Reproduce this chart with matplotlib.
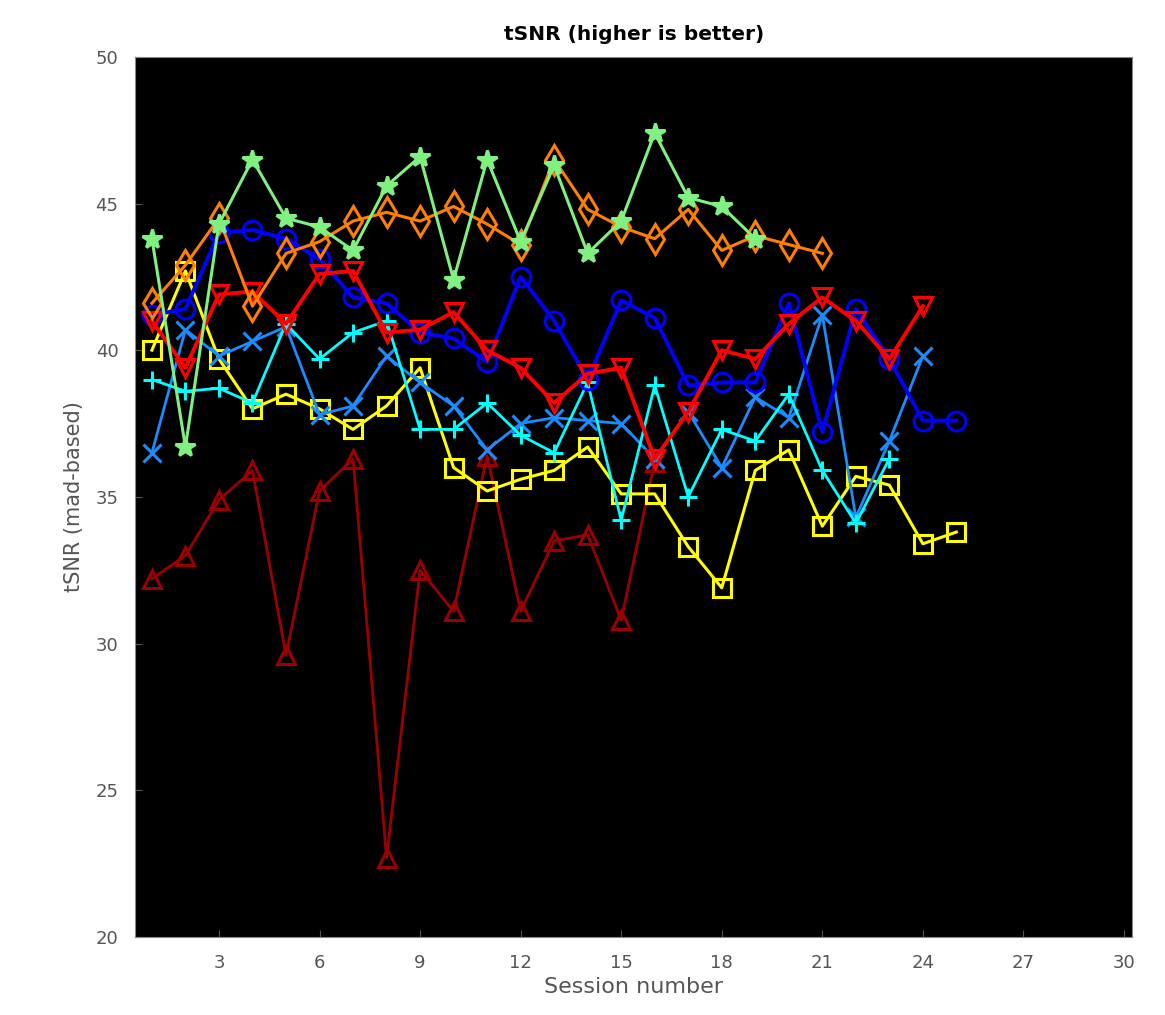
import numpy as np
import matplotlib
matplotlib.use("Agg")
import matplotlib.pyplot as plt

# ── Data (tSNR per session) ──────────────────────────────────────────────────
green = [43.8, 36.7, 44.3, 46.5, 44.5, 44.2, 43.4, 45.6, 46.6, 42.4,
         46.5, 43.7, 46.3, 43.3, 44.4, 47.4, 45.2, 44.9, 43.8]
orange = [41.6, 42.9, 44.5, 41.5, 43.3, 43.7, 44.4, 44.7, 44.4, 44.9,
          44.3, 43.6, 46.5, 44.8, 44.2, 43.8, 44.8, 43.4, 43.9, 43.6, 43.3]
blue = [41.2, 41.4, 44.0, 44.1, 43.8, 43.1, 41.8, 41.6, 40.6, 40.4,
        39.6, 42.5, 41.0, 39.0, 41.7, 41.1, 38.8, 38.9, 38.9, 41.6,
        37.2, 41.4, 39.7, 37.6, 37.6]
red = [41.0, 39.4, 41.9, 42.0, 40.9, 42.6, 42.7, 40.6, 40.7, 41.3,
       40.0, 39.4, 38.2, 39.2, 39.4, 36.3, 37.9, 40.0, 39.7, 40.9,
       41.8, 41.0, 39.7, 41.5]
cyan = [39.0, 38.6, 38.7, 38.2, 40.9, 39.7, 40.6, 41.0, 37.3, 37.3,
        38.2, 37.1, 36.5, 38.9, 34.2, 38.8, 35.0, 37.3, 36.9, 38.5,
        35.9, 34.1, 36.3]
lightblue = [36.5, 40.7, 39.8, 40.3, 40.8, 37.8, 38.1, 39.8, 38.9, 38.1,
             36.6, 37.5, 37.7, 37.6, 37.5, 36.3, 37.9, 36.0, 38.4, 37.7,
             41.2, 34.3, 36.9, 39.8]
yellow = [40.0, 42.7, 39.7, 38.0, 38.5, 38.0, 37.3, 38.1, 39.4, 36.0,
          35.2, 35.6, 35.9, 36.7, 35.1, 35.1, 33.3, 31.9, 35.9, 36.6,
          34.0, 35.7, 35.4, 33.4, 33.8]
darkred = [32.2, 33.0, 34.9, 35.9, 29.6, 35.2, 36.3, 22.7, 32.5, 31.1,
           36.4, 31.1, 33.5, 33.7, 30.8, 36.2]

xticks = [3, 6, 9, 12, 15, 18, 21, 24, 27, 30]
yticks = [20, 25, 30, 35, 40, 45, 50]

# (values, color, marker, linewidth)
series = [
    (darkred,   "#9a0000", "^", 2.0),
    (yellow,    "#ffff00", "s", 2.2),
    (lightblue, "#1a8cff", "x", 2.0),
    (cyan,      "#00ffff", "+", 2.0),
    (blue,      "#0000ff", "o", 2.8),
    (red,       "#ff0000", "v", 2.8),
    (orange,    "#ff8000", "d", 2.2),
    (green,     "#80f080", "*", 2.2),
]

fig = plt.figure(figsize=(11.65, 10.15), dpi=100)
ax = fig.add_axes([0.116, 0.077, 0.856, 0.867])
ax.set_facecolor("black")

for vals, color, marker, lw in series:
    x = np.arange(1, len(vals) + 1)
    filled = marker in ("*", "+", "x")
    ax.plot(x, vals, color=color, linewidth=lw, marker=marker,
            markersize=15 if marker in ("*", "d") else 13.5,
            markerfacecolor=color if filled else "none",
            markeredgecolor=color, markeredgewidth=2.2)

ax.set_xlim(0.5, 30.25)
ax.set_ylim(20, 50)
ax.set_xticks(xticks)
ax.set_yticks(yticks)
ax.tick_params(direction="in", colors="#555555", labelsize=13, length=5, pad=12)
for s in ax.spines.values():
    s.set_color("#888888")

ax.set_title("tSNR (higher is better)", fontsize=14.5, fontweight="bold", pad=12)
ax.set_xlabel("Session number", fontsize=16, color="#555555", labelpad=4)
ax.set_ylabel("tSNR (mad-based)", fontsize=15, color="#555555", labelpad=8)

fig.savefig("out.png", dpi=100, facecolor="white")
